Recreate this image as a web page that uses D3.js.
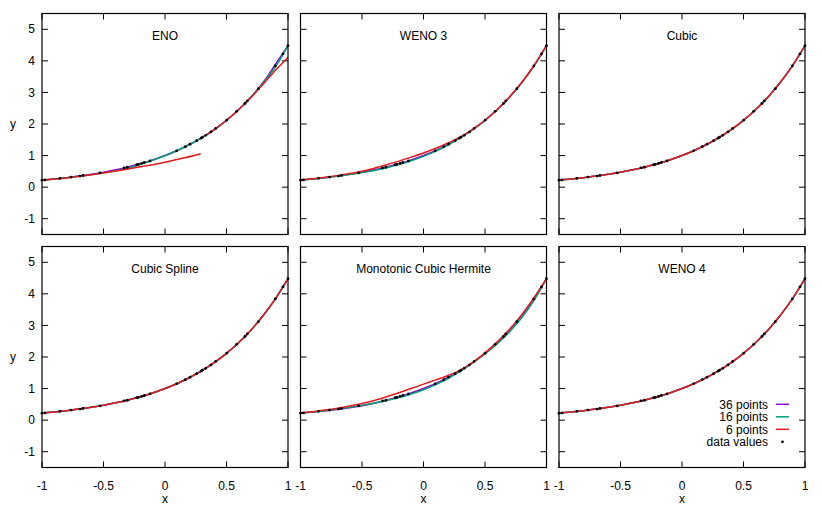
<!DOCTYPE html>
<html>
<head>
<meta charset="utf-8">
<script src="https://cdn.jsdelivr.net/npm/d3@7"></script>
<style>
  body { margin: 0; background: #fff; }
  svg text { font-family: "Liberation Sans", Arial, sans-serif; font-size: 12px; fill: #000; }
</style>
</head>
<body>
<svg id="chart" width="822" height="514"></svg>
<script>
// data values (black dots)
const dataX = [-1, -0.976, -0.854, -0.764, -0.691, -0.667, -0.528, -0.333, -0.306, -0.23, -0.217, -0.19, -0.168, -0.122,
  0.095, 0.165, 0.203, 0.257, 0.293, 0.304, 0.331, 0.374, 0.412, 0.501, 0.583, 0.65, 0.669, 0.759, 0.897, 0.959, 1];
const dataY = [0.22, 0.23, 0.28, 0.32, 0.35, 0.37, 0.45, 0.61, 0.63, 0.71, 0.72, 0.75, 0.78, 0.83,
  1.15, 1.28, 1.36, 1.47, 1.55, 1.58, 1.64, 1.75, 1.86, 2.12, 2.4, 2.65, 2.73, 3.12, 3.84, 4.22, 4.48];

// curve sample positions
const curveX = [-1, -0.9, -0.8, -0.7, -0.6, -0.5, -0.4, -0.3, -0.2, -0.1, 0, 0.1, 0.2, 0.3, 0.4, 0.5, 0.6, 0.7, 0.8, 0.9, 1];
const baseY = [0.223, 0.259, 0.301, 0.35, 0.407, 0.472, 0.549, 0.638, 0.741, 0.861, 1.0, 1.162, 1.35, 1.568, 1.822, 2.117, 2.46, 2.858, 3.32, 3.857, 4.482];

// ENO
const eno36 = [0.223, 0.259, 0.301, 0.35, 0.407, 0.472, 0.549, 0.638, 0.741, 0.861, 1.0, 1.162, 1.35, 1.568, 1.822, 2.117, 2.46, 2.858, 3.33, 3.9, 4.482];
const eno16 = [0.223, 0.259, 0.3, 0.345, 0.395, 0.455, 0.52, 0.6, 0.72, 0.85, 1.0, 1.162, 1.35, 1.568, 1.822, 2.117, 2.46, 2.858, 3.31, 3.82, 4.482];
const eno6aX = [-1, -0.8, -0.6, -0.4, -0.2, 0, 0.15, 0.29];
const eno6aY = [0.22, 0.29, 0.39, 0.51, 0.645, 0.79, 0.92, 1.06];
const eno6bX = [0.33, 0.4, 0.5, 0.6, 0.7, 0.8, 0.9, 1];
const eno6bY = [1.64, 1.82, 2.12, 2.46, 2.84, 3.27, 3.71, 4.11];

// WENO 3
const weno3_16 = [0.223, 0.259, 0.3, 0.347, 0.4, 0.46, 0.53, 0.615, 0.715, 0.835, 0.975, 1.14, 1.335, 1.565, 1.822, 2.117, 2.46, 2.85, 3.31, 3.85, 4.482];
const weno3_6 = [0.223, 0.263, 0.31, 0.365, 0.43, 0.505, 0.6, 0.71, 0.825, 0.95, 1.08, 1.23, 1.4, 1.59, 1.83, 2.12, 2.46, 2.86, 3.32, 3.86, 4.482];

// Monotonic Cubic Hermite
const mch36 = [0.223, 0.257, 0.297, 0.34, 0.39, 0.455, 0.535, 0.63, 0.741, 0.861, 1.0, 1.162, 1.35, 1.568, 1.822, 2.117, 2.46, 2.858, 3.32, 3.857, 4.482];
const mch16 = [0.223, 0.259, 0.301, 0.35, 0.405, 0.468, 0.54, 0.62, 0.715, 0.83, 0.965, 1.125, 1.32, 1.55, 1.81, 2.1, 2.42, 2.8, 3.25, 3.8, 4.482];
const mch6 = [0.223, 0.268, 0.32, 0.38, 0.45, 0.53, 0.625, 0.74, 0.865, 1.0, 1.14, 1.275, 1.415, 1.585, 1.83, 2.13, 2.48, 2.88, 3.35, 3.89, 4.482];

const panelTitles = ["ENO", "WENO 3", "Cubic", "Cubic Spline", "Monotonic Cubic Hermite", "WENO 4"];
const legendLabels = ["36 points", "16 points", "6 points", "data values"];
const xTicks = [-1, -0.5, 0, 0.5, 1];
const yTicks = [-1, 0, 1, 2, 3, 4, 5];

const colors = { p36: "#9400d3", p16: "#009e73", p6: "#e41a1c" };

const zip = (xs, ys) => xs.map((x, i) => [x, ys[i]]);

// each panel: list of [points, color] drawn in order
const panelSeries = [
  [[zip(curveX, eno36), colors.p36], [zip(curveX, eno16), colors.p16], [zip(eno6aX, eno6aY), colors.p6], [zip(eno6bX, eno6bY), colors.p6]],
  [[zip(curveX, baseY), colors.p36], [zip(curveX, weno3_16), colors.p16], [zip(curveX, weno3_6), colors.p6]],
  [[zip(curveX, baseY), colors.p36], [zip(curveX, baseY), colors.p16], [zip(curveX, baseY), colors.p6]],
  [[zip(curveX, baseY), colors.p36], [zip(curveX, baseY), colors.p16], [zip(curveX, baseY), colors.p6]],
  [[zip(curveX, mch36), colors.p36], [zip(curveX, mch16), colors.p16], [zip(curveX, mch6), colors.p6]],
  [[zip(curveX, baseY), colors.p36], [zip(curveX, baseY), colors.p16], [zip(curveX, baseY), colors.p6]]
];

const svg = d3.select("#chart");
const colLeft = [42, 300.5, 559];
const rowTop = [13.5, 246.5];
const pw = 246, ph = 221;

const x = d3.scaleLinear().domain([-1, 1]).range([0, pw]);
const y = d3.scaleLinear().domain([-1.5, 5.5]).range([ph, 0]);
const line = d3.line().x(d => x(d[0])).y(d => y(d[1])).curve(d3.curveMonotoneX);

panelTitles.forEach((title, i) => {
  const r = Math.floor(i / 3), c = i % 3;
  const g = svg.append("g").attr("transform", `translate(${colLeft[c]},${rowTop[r]})`);

  // ticks inward on all four sides
  const tk = 6;
  xTicks.forEach(t => {
    g.append("line").attr("x1", x(t)).attr("x2", x(t)).attr("y1", ph).attr("y2", ph - tk).attr("stroke", "#000");
    g.append("line").attr("x1", x(t)).attr("x2", x(t)).attr("y1", 0).attr("y2", tk).attr("stroke", "#000");
  });
  yTicks.forEach(t => {
    g.append("line").attr("x1", 0).attr("x2", tk).attr("y1", y(t)).attr("y2", y(t)).attr("stroke", "#000");
    g.append("line").attr("x1", pw).attr("x2", pw - tk).attr("y1", y(t)).attr("y2", y(t)).attr("stroke", "#000");
  });

  if (c === 0) {
    yTicks.forEach(t => {
      g.append("text").attr("x", -7).attr("y", y(t)).attr("dy", "0.35em").attr("text-anchor", "end").text(t);
    });
    g.append("text").attr("x", -29).attr("y", y(2)).attr("dy", "0.35em").attr("text-anchor", "middle").text("y");
  }
  if (r === 1) {
    xTicks.forEach(t => {
      g.append("text").attr("x", x(t)).attr("y", ph + 18).attr("dy", "0.35em").attr("text-anchor", "middle").text(t);
    });
    g.append("text").attr("x", pw / 2).attr("y", ph + 31).attr("dy", "0.35em").attr("text-anchor", "middle").text("x");
  }

  g.append("text").attr("x", pw / 2).attr("y", y(4.8)).attr("dy", "0.35em").attr("text-anchor", "middle").text(title);

  panelSeries[i].forEach(([pts, col]) => {
    g.append("path").attr("d", line(pts)).attr("fill", "none").attr("stroke", col).attr("stroke-width", 1.5);
  });

  g.selectAll("circle.dot").data(zip(dataX, dataY)).join("circle")
    .attr("class", "dot")
    .attr("cx", d => x(d[0])).attr("cy", d => y(d[1])).attr("r", 1.4).attr("fill", "#000");

  g.append("rect").attr("width", pw).attr("height", ph).attr("fill", "none").attr("stroke", "#000").attr("stroke-width", 1.2);

  // legend in the last panel
  if (i === 5) {
    const lc = [colors.p36, colors.p16, colors.p6, null];
    legendLabels.forEach((lab, k) => {
      const ly = 404.3 - rowTop[r] + k * 12.5;
      g.append("text").attr("x", 768 - colLeft[c]).attr("y", ly).attr("dy", "0.35em").attr("text-anchor", "end").text(lab);
      if (lc[k]) {
        g.append("line").attr("x1", 776 - colLeft[c]).attr("x2", 789 - colLeft[c]).attr("y1", ly).attr("y2", ly)
          .attr("stroke", lc[k]).attr("stroke-width", 1.5);
      } else {
        g.append("circle").attr("cx", 782.5 - colLeft[c]).attr("cy", ly).attr("r", 1.4).attr("fill", "#000");
      }
    });
  }
});
</script>
</body>
</html>
